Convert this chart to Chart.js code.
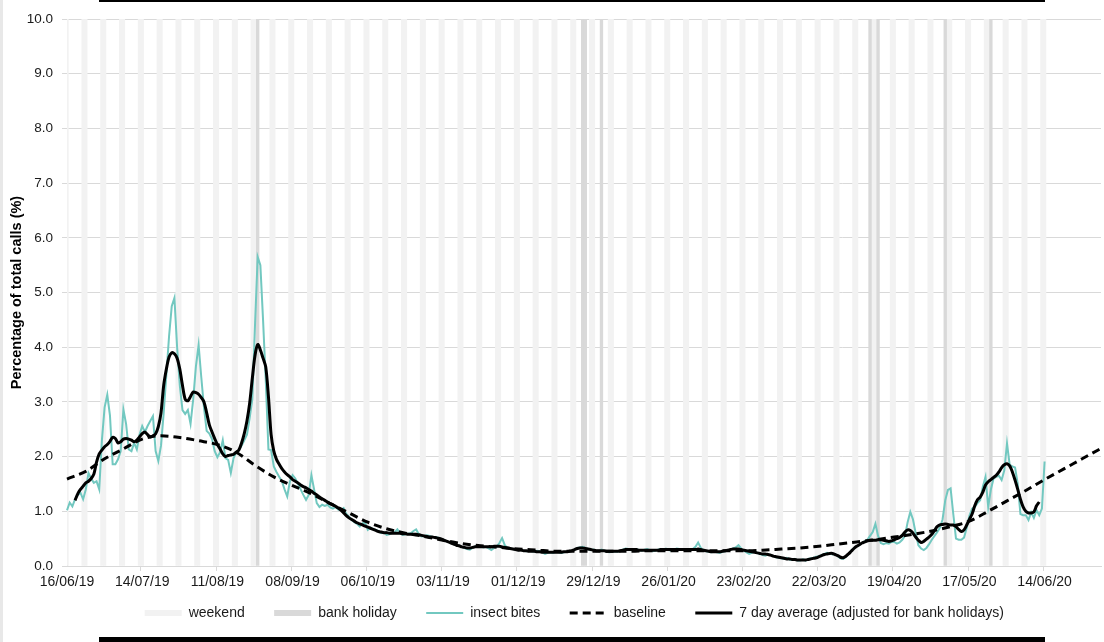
<!DOCTYPE html>
<html>
<head>
<meta charset="utf-8">
<script src="https://cdn.jsdelivr.net/npm/chart.js@4.4.1/dist/chart.umd.min.js"></script>
<style>
  body { margin: 0; background: #fff; }
  #wrap { position: relative; width: 1104px; height: 642px; overflow: hidden; }
  #chart { position: absolute; left: 0; top: 0; }
  .rule { position: absolute; background: #000; }
</style>
</head>
<body>
<div id="wrap">
  <canvas id="chart" width="1104" height="642"></canvas>
  <div class="rule" style="left:99px;top:0;width:946px;height:2px"></div>
  <div class="rule" style="left:99px;top:637px;width:946px;height:5px"></div>
  <div style="position:absolute;left:0;top:0;width:3px;height:642px;background:#e8e8e8"></div>
</div>
<script>
// one category per day, starting Sunday 16/06/19
const startDate = Date.UTC(2019, 5, 16);
const dayCount = 386;
const labels = [];
for (let i = 0; i < dayCount; i++) {
  const d = new Date(startDate + i * 86400000);
  const dd = String(d.getUTCDate()).padStart(2, '0');
  const mm = String(d.getUTCMonth() + 1).padStart(2, '0');
  const yy = String(d.getUTCFullYear()).slice(2);
  labels.push(dd + '/' + mm + '/' + yy);
}

const bankHolidays = ['26/08/19', '25/12/19', '26/12/19', '01/01/20', '10/04/20', '13/04/20', '08/05/20', '25/05/20'];

// daily % of calls, 16/06/19 .. 14/06/20
const insectBites = [
  1.02,1.16,1.09,1.22,1.30,1.34,1.22,1.40,1.70,1.60,
  1.52,1.55,1.40,2.30,2.90,3.13,2.75,1.86,1.86,1.95,
  2.10,2.86,2.60,2.13,2.10,2.25,2.13,2.40,2.56,2.45,
  2.56,2.65,2.74,2.10,1.92,2.20,2.80,3.50,4.20,4.75,
  4.90,4.00,3.30,2.85,2.78,2.85,2.60,3.05,3.65,4.04,
  3.45,2.90,2.47,2.42,2.32,2.10,1.99,2.08,2.30,1.97,
  1.94,1.70,1.97,2.08,2.12,2.20,2.30,2.40,2.70,3.05,
  4.40,5.65,5.50,4.50,3.40,
  2.13,2.12,1.82,1.72,1.63,1.55,1.40,1.27,1.55,1.66,
  1.60,1.50,1.40,1.30,1.21,1.30,1.66,1.40,1.15,1.08,
  1.12,1.10,1.12,1.07,1.05,1.08,1.03,1.02,1.06,0.95,
  0.90,0.84,0.80,0.77,0.72,0.78,0.80,0.66,0.70,0.68,
  0.66,0.64,0.60,0.62,0.57,0.58,0.60,0.62,0.67,0.60,
  0.57,0.58,0.59,0.60,0.64,0.67,0.58,0.54,0.55,0.56,
  0.55,0.53,0.53,0.52,
  0.50,0.48,0.46,0.44,0.42,0.40,0.38,0.37,0.35,0.33,
  0.31,0.30,0.33,0.36,0.35,0.36,0.34,0.35,0.32,0.29,
  0.33,0.36,0.42,0.51,0.38,0.33,0.32,0.31,0.30,0.29,
  0.30,0.28,0.27,0.28,0.27,0.26,0.28,0.27,0.25,0.22,
  0.24,0.25,0.24,0.26,0.25,0.24,0.25,0.26,0.27,0.28,
  0.30,0.33,0.34,0.35,0.33,0.31,0.29,0.30,0.28,0.27,
  0.30,0.28,0.26,0.25,0.26,0.27,0.26,0.28,0.30,0.32,
  0.31,0.29,0.30,0.31,0.29,
  0.28,0.30,0.31,0.29,0.27,0.28,0.30,0.31,0.30,0.32,
  0.29,0.28,0.30,0.32,0.31,0.30,0.29,0.28,0.30,0.31,
  0.35,0.43,0.33,0.29,0.27,0.26,0.25,0.26,0.25,0.24,
  0.26,0.27,0.28,0.30,0.32,0.34,0.38,0.32,0.28,0.25,
  0.22,0.24,0.26,0.24,0.22,0.20,0.19,0.21,0.20,0.18,
  0.16,0.15,0.14,0.13,0.15,0.12,0.11,0.13,0.10,0.10,
  0.12,0.10,0.13,0.14,0.15,0.17,0.18,0.20,0.22,0.24,
  0.23,0.21,0.22,0.18,0.14,0.13,0.17,0.22,0.28,0.33,
  0.36,0.38,0.42,0.45,0.48,0.55,0.62,0.77,
  0.55,0.42,0.40,0.42,0.41,0.44,0.44,0.41,0.43,0.48,
  0.55,0.80,0.99,0.85,0.60,0.38,0.32,0.29,0.33,0.40,
  0.48,0.55,0.62,0.70,0.85,1.20,1.39,1.42,0.95,0.50,
  0.48,0.48,0.52,0.70,0.92,1.05,1.08,1.15,1.20,1.45,
  1.63,1.08,1.40,1.60,1.63,1.65,1.57,1.75,2.24,1.85,
  1.82,1.80,1.50,0.95,0.93,0.93,0.84,0.98,0.88,1.02,
  0.93,1.05,1.91
];

// 7 day average, first value on 19/06/19
const sevenDayStart = 3;
const sevenDayAverage = [
  1.20,1.32,1.40,1.46,1.52,1.55,1.60,1.68,1.90,2.05,
  2.12,2.18,2.22,2.28,2.35,2.33,2.25,2.27,2.32,2.33,
  2.32,2.30,2.27,2.30,2.36,2.42,2.45,2.40,2.36,2.38,
  2.42,2.55,2.80,3.30,3.60,3.82,3.90,3.88,3.80,3.60,
  3.30,3.05,3.02,3.10,3.18,3.17,3.14,3.08,3.00,2.80,
  2.58,2.45,2.33,2.22,2.14,2.05,2.00,2.02,2.03,2.04,
  2.08,2.12,2.25,2.42,2.65,2.97,3.43,3.85,4.05,3.95,
  3.80,3.64,3.10,2.40,2.10,1.95,1.86,1.78,1.72,1.67,
  1.63,1.58,1.55,1.52,1.48,1.45,1.43,1.40,1.37,1.33,
  1.30,1.26,1.23,1.20,1.17,1.14,1.12,1.09,1.06,1.02,
  0.97,0.92,0.88,0.85,0.82,0.79,0.77,0.75,0.73,0.71,
  0.69,0.67,0.65,0.63,0.62,0.61,0.61,0.60,0.60,0.60,
  0.60,0.60,0.59,0.59,0.58,0.58,0.58,0.58,0.57,0.56,
  0.55,0.54,0.53,0.53,0.52,0.51,0.50,0.48,0.46,0.44,
  0.42,0.40,0.38,0.37,0.35,0.34,0.33,0.33,0.34,0.35,
  0.35,0.35,0.35,0.35,0.35,0.35,0.36,0.36,0.36,0.35,
  0.34,0.33,0.32,0.31,0.30,0.29,0.29,0.28,0.28,0.27,
  0.27,0.27,0.26,0.26,0.25,0.25,0.25,0.25,0.25,0.25,
  0.25,0.25,0.26,0.26,0.27,0.28,0.30,0.32,0.33,0.33,
  0.32,0.31,0.30,0.29,0.28,0.28,0.28,0.28,0.27,0.27,
  0.27,0.27,0.27,0.28,0.29,0.30,0.30,0.30,0.30,0.30,
  0.29,0.29,0.29,0.29,0.29,0.29,0.29,0.29,0.30,0.30,
  0.30,0.30,0.30,0.30,0.30,0.30,0.30,0.30,0.30,0.30,
  0.30,0.30,0.31,0.30,0.29,0.28,0.27,0.26,0.26,0.26,
  0.26,0.27,0.28,0.29,0.30,0.31,0.31,0.31,0.30,0.29,
  0.28,0.27,0.26,0.25,0.24,0.23,0.22,0.22,0.21,0.20,
  0.18,0.17,0.16,0.15,0.14,0.13,0.13,0.12,0.12,0.11,
  0.11,0.11,0.11,0.12,0.13,0.14,0.15,0.17,0.19,0.21,
  0.22,0.23,0.23,0.21,0.19,0.16,0.15,0.18,0.22,0.27,
  0.32,0.36,0.39,0.42,0.44,0.46,0.47,0.47,0.47,0.48,
  0.48,0.47,0.46,0.45,0.46,0.48,0.50,0.52,0.56,0.62,
  0.66,0.65,0.60,0.53,0.47,0.43,0.45,0.49,0.53,0.58,
  0.65,0.72,0.75,0.76,0.77,0.76,0.75,0.75,0.72,0.67,
  0.63,0.66,0.75,0.85,0.95,1.10,1.21,1.26,1.35,1.48,
  1.54,1.58,1.62,1.66,1.72,1.80,1.85,1.87,1.83,1.72,
  1.57,1.40,1.22,1.08,1.00,0.97,0.97,0.99,1.10,1.17
];

// baseline, one value per week from 16/06/19 to 05/07/20
const baselineStep = 7;
const baseline = [
  1.59,1.73,1.96,2.14,2.32,2.38,2.35,2.29,2.22,2.08,
  1.84,1.63,1.47,1.32,1.14,0.97,0.80,0.68,0.60,0.54,
  0.47,0.41,0.37,0.34,0.31,0.29,0.27,0.27,0.27,0.27,
  0.27,0.28,0.28,0.28,0.28,0.28,0.28,0.29,0.31,0.33,
  0.36,0.40,0.44,0.48,0.53,0.58,0.64,0.72,0.82,1.00,
  1.19,1.38,1.58,1.77,1.96,2.15
];

const yTicks = [0, 1, 2, 3, 4, 5, 6, 7, 8, 9, 10];
const tickEvery = 28;

const fontFamily = "'Liberation Sans', Arial, sans-serif";
Chart.defaults.font.family = fontFamily;

const weekendBars = labels.map((l, i) =>
  i < insectBites.length && (i % 7 === 0 || i % 7 === 6) ? 10 : null);
const holidayBars = labels.map(l => bankHolidays.includes(l) ? 10 : null);
const averageLine = Array(sevenDayStart).fill(null).concat(sevenDayAverage);
const baselineLine = baseline.map((v, i) => ({ x: labels[i * baselineStep], y: v }));

const barStyle = { type: 'bar', barPercentage: 1, categoryPercentage: 1, grouped: false, borderWidth: 0 };
// extra room after each legend entry (legend padding also sets its height)
const legendGap = '     ';

new Chart(document.getElementById('chart'), {
  type: 'bar',
  data: {
    labels,
    datasets: [
      { ...barStyle, label: 'weekend', data: weekendBars, backgroundColor: '#f2f2f2', order: 5, legendWidth: 6 },
      { ...barStyle, label: 'bank holiday', data: holidayBars, backgroundColor: '#d9d9d9', order: 4, legendWidth: 6 },
      { type: 'line', label: 'insect bites', data: insectBites, borderColor: '#72c8c0', borderWidth: 2,
        pointRadius: 0, tension: 0, order: 3, legendWidth: 2 },
      { type: 'line', label: 'baseline', data: baselineLine, borderColor: '#000', borderWidth: 3,
        borderDash: [8, 5], pointRadius: 0, cubicInterpolationMode: 'monotone', order: 2, legendWidth: 3 },
      { type: 'line', label: '7 day average (adjusted for bank holidays)', data: averageLine, borderColor: '#000',
        borderWidth: 3, pointRadius: 0, tension: 0.3, order: 1, legendWidth: 3 }
    ]
  },
  options: {
    responsive: false,
    animation: false,
    layout: { padding: { top: 19, right: 0, bottom: 12, left: 0 } },
    scales: {
      x: {
        type: 'category',
        offset: false,
        afterFit: s => { s.height = 30; },
        grid: {
          drawOnChartArea: false,
          tickLength: 5,
          color: ctx => ctx.index % tickEvery === 0 ? '#d9d9d9' : 'rgba(0,0,0,0)'
        },
        border: { color: '#d9d9d9' },
        ticks: {
          autoSkip: false, maxRotation: 0, minRotation: 0, padding: 3,
          color: '#1a1a1a', font: { size: 14 },
          callback: (v, i) => i % tickEvery === 0 ? labels[i] : ''
        }
      },
      y: {
        min: 0, max: 10,
        afterBuildTicks: s => { s.ticks = yTicks.map(v => ({ value: v })); },
        afterFit: s => { s.width = 67; },
        grid: { color: '#d9d9d9', tickLength: 5 },
        border: { color: '#d9d9d9' },
        ticks: { padding: 9, color: '#1a1a1a', font: { size: 13.5 }, callback: v => v.toFixed(1) },
        title: {
          display: true, text: 'Percentage of total calls (%)', color: '#000',
          font: { size: 14.5, weight: 'bold' }, padding: { top: 8, bottom: 0 }
        }
      }
    },
    plugins: {
      tooltip: { enabled: false },
      legend: {
        position: 'bottom',
        fullSize: false,
        labels: {
          usePointStyle: true,
          pointStyleWidth: 37,
          boxHeight: 8,
          padding: 10,
          color: '#1a1a1a',
          font: { size: 14 },
          sort: (a, b) => a.datasetIndex - b.datasetIndex,
          generateLabels(chart) {
            const items = Chart.defaults.plugins.legend.labels.generateLabels(chart);
            items.forEach(it => {
              const ds = chart.data.datasets[it.datasetIndex];
              it.text = it.text + legendGap;
              it.pointStyle = 'line';
              it.strokeStyle = ds.type === 'bar' ? ds.backgroundColor : ds.borderColor;
              it.lineWidth = ds.legendWidth;
              it.lineDash = ds.borderDash || [];
            });
            return items;
          }
        }
      }
    }
  }
});
</script>
</body>
</html>
